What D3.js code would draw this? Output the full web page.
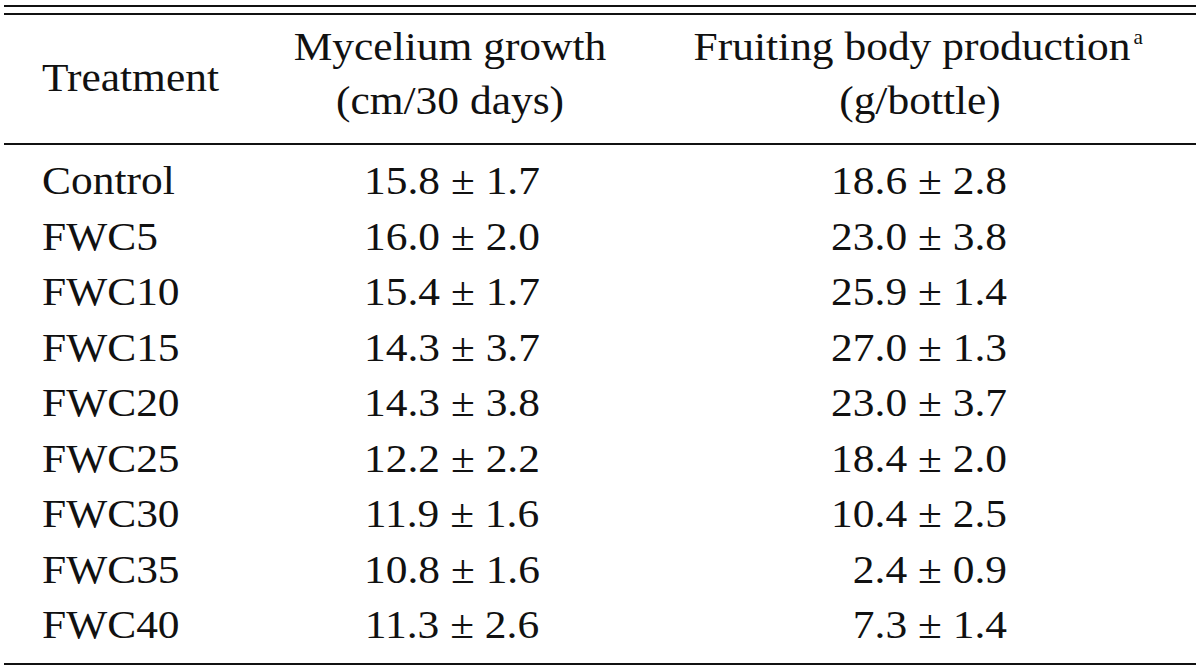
<!DOCTYPE html>
<html>
<head>
<meta charset="utf-8">
<script src="https://cdn.jsdelivr.net/npm/d3@7"></script>
<style>
  html, body { margin: 0; padding: 0; background: #fff; }
  svg { display: block; }
  text { font-family: "Liberation Serif", "Times New Roman", serif; fill: #111; }
</style>
</head>
<body>
<svg id="chart" width="1200" height="668"></svg>
<script>
// ---- data ----
const treatments = ["Control", "FWC5", "FWC10", "FWC15", "FWC20", "FWC25", "FWC30", "FWC35", "FWC40"];
const myceliumMean = [15.8, 16.0, 15.4, 14.3, 14.3, 12.2, 11.9, 10.8, 11.3];
const myceliumSD   = [1.7, 2.0, 1.7, 3.7, 3.8, 2.2, 1.6, 1.6, 2.6];
const fruitingMean = [18.6, 23.0, 25.9, 27.0, 23.0, 18.4, 10.4, 2.4, 7.3];
const fruitingSD   = [2.8, 3.8, 1.4, 1.3, 3.7, 2.0, 2.5, 0.9, 1.4];
const headerLine1 = ["Treatment", "Mycelium growth", "Fruiting body production"];
const headerLine2 = ["", "(cm/30 days)", "(g/bottle)"];
const headerNote = "a";

// ---- layout ----
const svg = d3.select("#chart");
const W = 1200;
const fs = 41, sx = 1.06;
const fmt = d3.format(".1f");

const y = d3.scalePoint().domain(treatments).range([194, 638]);

function addText(g, x, yy, str, anchor, size) {
  return g.append("text")
    .attr("transform", `translate(${x},${yy}) scale(${sx},1)`)
    .attr("text-anchor", anchor)
    .attr("font-size", size || fs)
    .text(str);
}

// rules
const rule = (yy) => svg.append("line")
  .attr("x1", 4).attr("x2", W - 4)
  .attr("y1", yy).attr("y2", yy)
  .attr("stroke", "#111").attr("stroke-width", 2.2);
rule(6); rule(14); rule(144); rule(664);

// header
const hg = svg.append("g");
addText(hg, 42, 91, headerLine1[0], "start");
addText(hg, 450, 60, headerLine1[1], "middle");
addText(hg, 450, 114, headerLine2[1], "middle");
const h3 = addText(hg, 912, 60, headerLine1[2], "middle");
addText(hg, 920, 114, headerLine2[2], "middle");
// superscript note after column 3 header
const bb = h3.node().getBBox();
const endX = 912 + (bb.width * sx) / 2;
addText(hg, endX + 3, 44, headerNote, "start", 20);

// body rows
const rows = svg.append("g").selectAll("g.row")
  .data(treatments.map((t, i) => ({ t, i })))
  .join("g").attr("class", "row");

rows.each(function(d) {
  const g = d3.select(this);
  const yy = y(d.t);
  addText(g, 42, yy, d.t, "start");
  addText(g, 452, yy, `${fmt(myceliumMean[d.i])} \u00B1 ${fmt(myceliumSD[d.i])}`, "middle");
  addText(g, 1007, yy, `${fmt(fruitingMean[d.i])} \u00B1 ${fmt(fruitingSD[d.i])}`, "end");
});
</script>
</body>
</html>
